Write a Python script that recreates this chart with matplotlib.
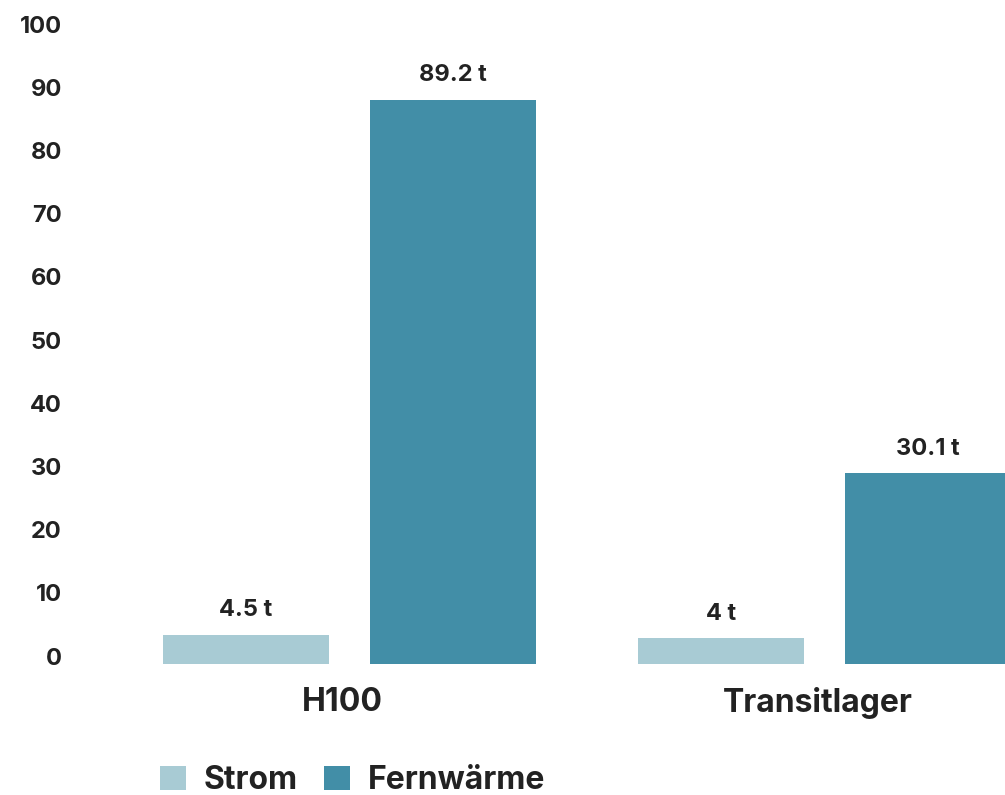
import matplotlib
matplotlib.use("Agg")
import matplotlib.pyplot as plt
import matplotlib.transforms as mtransforms
from matplotlib.patches import Patch
import numpy as np

# Data
categories = ["H100", "Transitlager"]
series_names = ["Strom", "Fernwärme"]
strom = [4.5, 4.0]
fernwaerme = [89.2, 30.1]
value_labels_strom = ["4.5 t", "4 t"]
value_labels_fern = ["89.2 t", "30.1 t"]
y_ticks = [0, 10, 20, 30, 40, 50, 60, 70, 80, 90, 100]

colors = {"Strom": "#A8CBD4", "Fernwärme": "#428EA7"}
text_color = "#222222"

plt.rcParams["font.family"] = ["Inter", "DejaVu Sans"]
plt.rcParams["font.weight"] = "bold"

fig = plt.figure(figsize=(10.05, 7.95), dpi=100)
W, H = 1005, 795
ax = fig.add_axes([75 / W, 131.4 / H, 1 - 75 / W, (763.4 - 131.4) / H])

x = np.arange(len(categories))
width = 0.35
offset = 0.218

b1 = ax.bar(x - offset, strom, width, color=colors["Strom"], label="Strom")
b2 = ax.bar(x + offset, fernwaerme, width, color=colors["Fernwärme"], label="Fernwärme")

for bars, labels in ((b1, value_labels_strom), (b2, value_labels_fern)):
    for rect, lab in zip(bars, labels):
        ax.annotate(lab, (rect.get_x() + rect.get_width() / 2, rect.get_height()),
                    xytext=(0, 13.5), textcoords="offset points",
                    ha="center", va="baseline", fontsize=17, fontweight="bold",
                    color=text_color)

ax.set_xlim(-0.578, 1.38)
ax.set_ylim(0, 100)
ax.set_yticks(y_ticks)
ax.set_yticklabels([str(t) for t in y_ticks], fontsize=17, fontweight="bold", color=text_color)
ax.set_xticks(x - 0.015)
ax.set_xticklabels(categories, fontsize=23, fontweight="bold", color=text_color)
ax.tick_params(axis="y", length=0, pad=9.5)
ax.tick_params(axis="x", length=0, pad=17)

shift = mtransforms.ScaledTranslation(0, 7.5 / 100, fig.dpi_scale_trans)
for lbl in ax.get_yticklabels():
    lbl.set_transform(lbl.get_transform() + shift)

for s in ax.spines.values():
    s.set_visible(False)

handles = [Patch(facecolor=colors[n], edgecolor="none", label=n) for n in series_names]
fig.legend(handles=handles, loc="lower left", bbox_to_anchor=(160 / W, -1 / H),
           frameon=False, ncol=2, prop={"weight": "bold", "size": 23},
           handlelength=0.8, handleheight=0.8, handletextpad=0.55,
           columnspacing=0.85, borderpad=0, borderaxespad=0,
           labelcolor=text_color)

fig.savefig("out.png", dpi=100)
